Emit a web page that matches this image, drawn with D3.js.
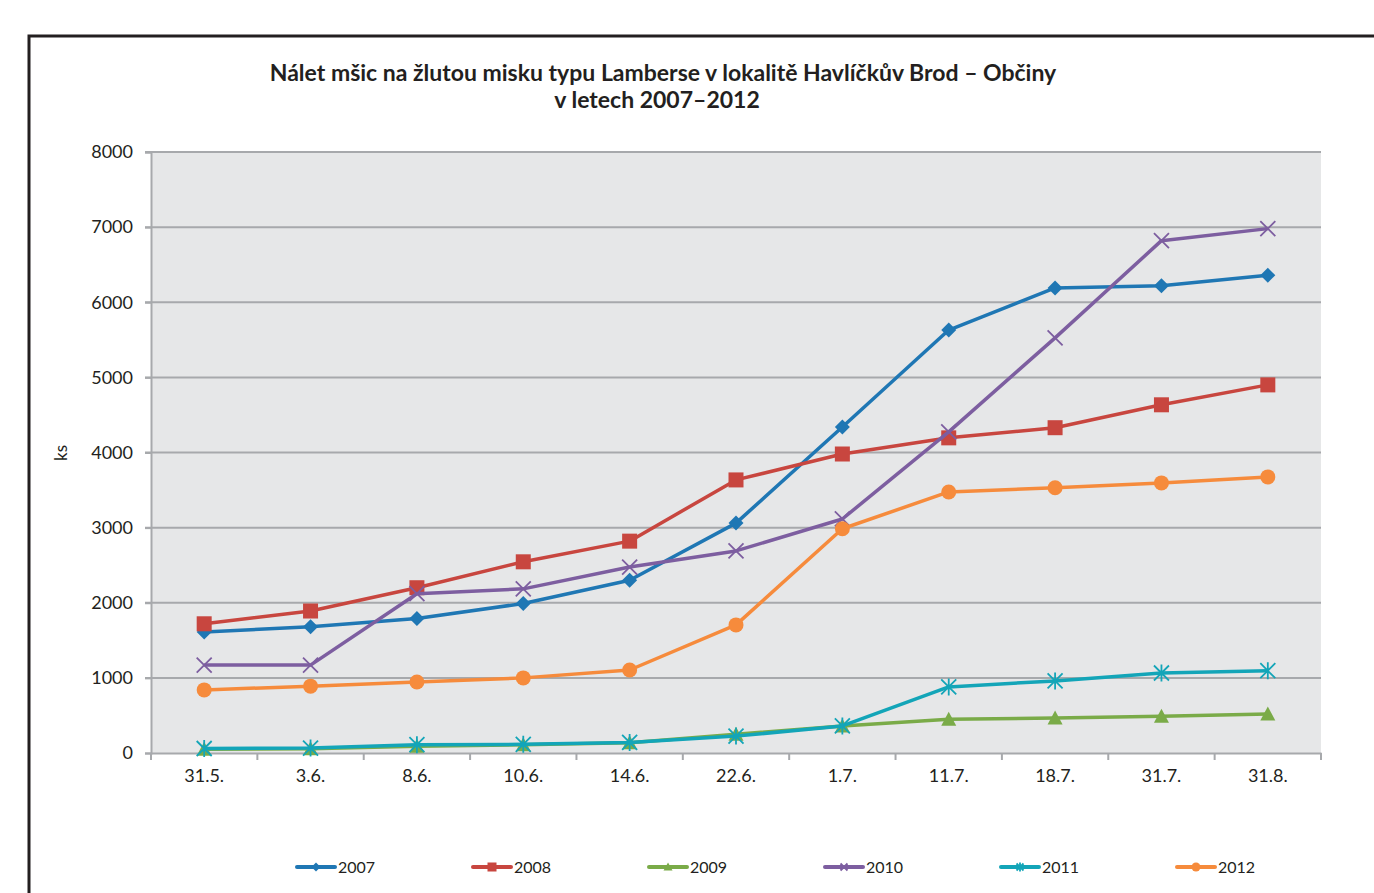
<!DOCTYPE html>
<html>
<head>
<meta charset="utf-8">
<script src="https://cdn.jsdelivr.net/npm/d3@7"></script>
<style>
  body { margin: 0; background: #fff; }
  text { font-family: Lato, "Open Sans", sans-serif; fill: #231f20; }
</style>
</head>
<body>
<svg id="chart" width="1374" height="893"></svg>
<script>
// data
var dates = ["31.5.", "3.6.", "8.6.", "10.6.", "14.6.", "22.6.", "1.7.", "11.7.", "18.7.", "31.7.", "31.8."];
var years = ["2007", "2008", "2009", "2010", "2011", "2012"];
var v2007 = [1610, 1680, 1790, 1990, 2300, 3060, 4340, 5630, 6190, 6220, 6360];
var v2008 = [1720, 1890, 2200, 2545, 2820, 3635, 3980, 4195, 4330, 4635, 4900];
var v2009 = [50, 55, 90, 110, 135, 250, 360, 450, 465, 490, 520];
var v2010 = [1170, 1170, 2120, 2185, 2475, 2690, 3115, 4275, 5525, 6820, 6980];
var v2011 = [60, 65, 110, 115, 140, 225, 360, 880, 960, 1065, 1095];
var v2012 = [840, 890, 945, 1000, 1105, 1705, 2985, 3475, 3530, 3595, 3675];
var yTicks = [0, 1000, 2000, 3000, 4000, 5000, 6000, 7000, 8000];

var colors = ["#1f77b4", "#c8463f", "#7aab48", "#7d5ea0", "#13a5b8", "#f68b3c"];
var markers = ["diamond", "square", "triangle", "cross", "star", "circle"];
var series = [v2007, v2008, v2009, v2010, v2011, v2012];

var svg = d3.select("#chart");

// frame
svg.append("path")
    .attr("d", "M29,893 V36 H1374")
    .attr("fill", "none")
    .attr("stroke", "#231f20")
    .attr("stroke-width", 3);

var pLeft = 151, pRight = 1321, pTop = 152, pBottom = 753;

var x = d3.scaleBand().domain(dates).range([pLeft, pRight]);
var y = d3.scaleLinear().domain([0, 8000]).range([pBottom, pTop]);

// plot background
svg.append("rect")
    .attr("x", pLeft).attr("y", pTop)
    .attr("width", pRight - pLeft).attr("height", pBottom - pTop)
    .attr("fill", "#e6e7e8");

// gridlines
svg.selectAll(".grid")
    .data(yTicks.filter(function (d) { return d > 0; }))
    .enter().append("line")
    .attr("x1", pLeft - 6).attr("x2", pRight)
    .attr("y1", function (d) { return y(d); })
    .attr("y2", function (d) { return y(d); })
    .attr("stroke", "#a7a9ac")
    .attr("stroke-width", 2);

// y axis
var yAxis = svg.append("g")
    .attr("transform", "translate(" + pLeft + ",0)")
    .call(d3.axisLeft(y).tickValues(yTicks).tickFormat(d3.format("d")).tickSize(6).tickPadding(12));
yAxis.select(".domain").attr("stroke", "#a7a9ac").attr("stroke-width", 2);
yAxis.selectAll(".tick line").attr("stroke", "#a7a9ac").attr("stroke-width", 2);
yAxis.selectAll("text").style("font-size", "18px").attr("fill", "#231f20");

// x axis
var xAxis = svg.append("g")
    .attr("transform", "translate(0," + pBottom + ")")
    .call(d3.axisBottom(x).tickSize(0).tickPadding(16));
xAxis.select(".domain").attr("stroke", "#a7a9ac").attr("stroke-width", 2);
xAxis.selectAll("text").style("font-size", "18px").attr("fill", "#231f20");
var bounds = [pLeft].concat(dates.map(function (d) { return x(d) + x.bandwidth(); }));
xAxis.selectAll(".bound")
    .data(bounds)
    .enter().append("line")
    .attr("x1", function (d) { return d; })
    .attr("x2", function (d) { return d; })
    .attr("y1", 0).attr("y2", 7)
    .attr("stroke", "#a7a9ac")
    .attr("stroke-width", 2);

// y title
svg.append("text")
    .attr("transform", "translate(67,453) rotate(-90)")
    .attr("text-anchor", "middle")
    .style("font-size", "17px")
    .text("ks");

// title
svg.append("text")
    .attr("x", 663).attr("y", 81)
    .attr("text-anchor", "middle")
    .style("font-size", "23px").style("font-weight", "bold")
    .text("Nálet mšic na žlutou misku typu Lamberse v lokalitě Havlíčkův Brod – Občiny");
svg.append("text")
    .attr("x", 657).attr("y", 108)
    .attr("text-anchor", "middle")
    .style("font-size", "23px").style("font-weight", "bold")
    .text("v letech 2007–2012");

function drawMarker(g, type, color, s) {
    var h = s / 2;
    if (type == "diamond") {
        g.append("path").attr("d", "M0," + (-h - 1) + "L" + (h + 1) + ",0L0," + (h + 1) + "L" + (-h - 1) + ",0Z").attr("fill", color);
    } else if (type == "square") {
        g.append("rect").attr("x", -h - 1).attr("y", -h - 1).attr("width", s + 2).attr("height", s + 2).attr("fill", color);
    } else if (type == "triangle") {
        g.append("path").attr("d", "M0," + (-h - 1) + "L" + (h + 1) + "," + (h) + "L" + (-h - 1) + "," + (h) + "Z").attr("fill", color);
    } else if (type == "circle") {
        g.append("circle").attr("r", h + 1).attr("fill", color);
    } else if (type == "cross") {
        g.append("path").attr("d", "M" + (-h) + "," + (-h) + "L" + h + "," + h + "M" + (-h) + "," + h + "L" + h + "," + (-h))
            .attr("stroke", color).attr("stroke-width", 1.8);
    } else if (type == "star") {
        g.append("path").attr("d", "M" + (-h) + "," + (-h) + "L" + h + "," + h + "M" + (-h) + "," + h + "L" + h + "," + (-h) + "M0," + (-h - 1) + "V" + (h + 1))
            .attr("stroke", color).attr("stroke-width", 1.8);
    }
}

var line = d3.line()
    .x(function (d, i) { return x(dates[i]) + x.bandwidth() / 2; })
    .y(function (d) { return y(d); });

for (var k = 0; k < series.length; k++) {
    svg.append("path")
        .datum(series[k])
        .attr("d", line)
        .attr("fill", "none")
        .attr("stroke", colors[k])
        .attr("stroke-width", 3.5)
        .attr("stroke-linejoin", "round");
    for (var i = 0; i < series[k].length; i++) {
        var g = svg.append("g")
            .attr("transform", "translate(" + (x(dates[i]) + x.bandwidth() / 2) + "," + y(series[k][i]) + ")");
        drawMarker(g, markers[k], colors[k], (markers[k] == "cross" || markers[k] == "star") ? 15 : 13);
    }
}

// legend
var legend = svg.append("g").attr("transform", "translate(297,867)");
years.forEach(function (yr, k) {
    var lg = legend.append("g").attr("transform", "translate(" + (k * 176) + ",0)");
    lg.append("line").attr("x1", 0).attr("x2", 38).attr("y1", 0).attr("y2", 0)
        .attr("stroke", colors[k]).attr("stroke-width", 4).attr("stroke-linecap", "round");
    var mg = lg.append("g").attr("transform", "translate(19,0)");
    drawMarker(mg, markers[k], colors[k], 7);
    lg.append("text").attr("x", 41).attr("y", 6).style("font-size", "16px").text(yr);
});
</script>
</body>
</html>
